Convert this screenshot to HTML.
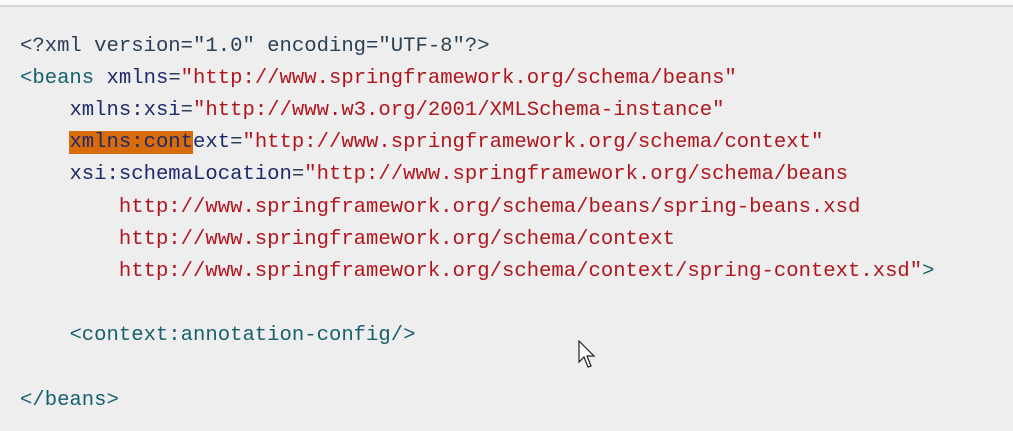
<!DOCTYPE html>
<html><head><meta charset="utf-8"><style>
html,body{margin:0;padding:0}
body{width:1013px;height:431px;background:#eeeeee;position:relative;overflow:hidden}
.top{position:absolute;left:0;top:0;width:1013px;height:5px;background:#fafafa;border-bottom:2px solid #d6d6d6}
.l{position:absolute;left:20px;font-family:"Liberation Mono",monospace;font-size:20.6px;line-height:32px;height:32px;white-space:pre;color:#2b3f55}
.t{color:#17606e}.a{color:#1d2a6b}.s{color:#b0161d}.p{color:#2b3f55}
.hl{background:#d86b0a}
</style></head><body>
<div class="top"></div>
<div class="l" style="top:31px">&lt;?xml version="1.0" encoding="UTF-8"?&gt;</div>
<div class="l" style="top:63px"><span class="t">&lt;beans</span> <span class="a">xmlns</span>=<span class="s">"http://www.springframework.org/schema/beans"</span></div>
<div class="l" style="top:95px">    <span class="a">xmlns:xsi</span>=<span class="s">"http://www.w3.org/2001/XMLSchema-instance"</span></div>
<div class="l" style="top:127px">    <span class="a"><span class="hl">xmlns:cont</span>ext</span>=<span class="s">"http://www.springframework.org/schema/context"</span></div>
<div class="l" style="top:159px">    <span class="a">xsi:schemaLocation</span>=<span class="s">"http://www.springframework.org/schema/beans</span></div>
<div class="l" style="top:192px"><span class="s">        http://www.springframework.org/schema/beans/spring-beans.xsd</span></div>
<div class="l" style="top:224px"><span class="s">        http://www.springframework.org/schema/context</span></div>
<div class="l" style="top:256px"><span class="s">        http://www.springframework.org/schema/context/spring-context.xsd"</span><span class="t">&gt;</span></div>
<div class="l" style="top:320px">    <span class="t">&lt;context:annotation-config/&gt;</span></div>
<div class="l" style="top:385px"><span class="t">&lt;/beans&gt;</span></div>
<svg style="position:absolute;left:578px;top:340px" width="20" height="32" viewBox="0 0 20 32">
<path d="M1 1 L1 22 L6 17 L10 27 L13 26 L9 16 L16 16 Z" fill="#fff" stroke="#222" stroke-width="1.2"/>
</svg>
</body></html>
